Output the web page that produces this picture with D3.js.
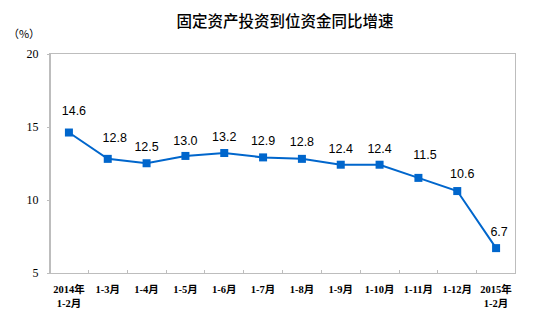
<!DOCTYPE html>
<html>
<head>
<meta charset="utf-8">
<script src="https://cdn.jsdelivr.net/npm/d3@7/dist/d3.min.js"></script>
<style>
  html, body { margin: 0; padding: 0; background: #fff; }
  svg { display: block; }
</style>
</head>
<body>
<svg id="chart" width="553" height="333"></svg>
<script>
// Period labels (two-line where needed)
const periods = [
  ["2014年", "1-2月"], ["1-3月"], ["1-4月"], ["1-5月"], ["1-6月"], ["1-7月"],
  ["1-8月"], ["1-9月"], ["1-10月"], ["1-11月"], ["1-12月"], ["2015年", "1-2月"]
];
// Year-on-year growth of funds in place for fixed-asset investment (%)
const growth = [14.6, 12.8, 12.5, 13.0, 13.2, 12.9, 12.8, 12.4, 12.4, 11.5, 10.6, 6.7];
const yTicks = [5, 10, 15, 20];

// Value-label nudges (dx, dy of label centre from its marker)
const labelNudge = [
  [5, -22], [7, -21], [0, -17], [0, -15], [0, -17], [0, -17],
  [0, -17], [0, -16], [0, -16], [6.5, -23], [5, -18], [3, -17]
];

const svg = d3.select("#chart");
const margin = { left: 49.5, right: 37.5, top: 53.5, bottom: 60 };
const W = 553, H = 333;
const x0 = margin.left, x1 = W - margin.right;
const y0 = H - margin.bottom, y1 = margin.top;

const x = d3.scaleBand().domain(d3.range(periods.length)).range([x0, x1]).padding(0);
const y = d3.scaleLinear().domain([5, 20]).range([y0, y1]);

const axisColor = "#bdbdbd";

// Title
svg.append("text")
  .attr("x", 285).attr("y", 27)
  .attr("text-anchor", "middle")
  .attr("font-family", "'Noto Sans CJK SC', sans-serif")
  .attr("font-size", 15.5)
  .attr("font-weight", 500)
  .attr("fill", "#000")
  .text("固定资产投资到位资金同比增速");

// Unit
svg.append("text")
  .attr("x", 24).attr("y", 37.5)
  .attr("text-anchor", "middle")
  .attr("font-family", "'Noto Sans CJK SC', sans-serif")
  .attr("font-size", 11)
  .attr("fill", "#000")
  .text("（%）");

// Plot frame
svg.append("rect")
  .attr("x", x0).attr("y", y1)
  .attr("width", x1 - x0).attr("height", y0 - y1)
  .attr("fill", "none")
  .attr("stroke", axisColor)
  .attr("stroke-width", 1)
  .attr("shape-rendering", "crispEdges");

// Y axis
const yAxis = d3.axisLeft(y).tickValues(yTicks).tickSize(3).tickPadding(8).tickFormat(d3.format("d"));
const gy = svg.append("g").attr("transform", `translate(${x0},0)`).call(yAxis);
gy.select(".domain").attr("stroke", axisColor).attr("shape-rendering", "crispEdges");
gy.selectAll(".tick line").attr("stroke", axisColor).attr("shape-rendering", "crispEdges");
gy.selectAll(".tick text")
  .attr("font-family", "'Liberation Serif', serif")
  .attr("font-size", 12)
  .attr("fill", "#000");

// X axis: inward ticks at category boundaries
const boundaries = d3.range(1, periods.length).map(i => x(i));
svg.append("g").selectAll("line").data(boundaries).join("line")
  .attr("x1", d => d).attr("x2", d => d)
  .attr("y1", y0).attr("y2", y0 - 3)
  .attr("stroke", axisColor)
  .attr("shape-rendering", "crispEdges");

const xl = svg.append("g").selectAll("text").data(periods).join("text")
  .attr("x", (d, i) => x(i) + x.bandwidth() / 2)
  .attr("y", 293)
  .attr("text-anchor", "middle")
  .attr("font-family", "'Liberation Serif', 'Noto Sans CJK SC', serif")
  .attr("font-size", 10.5)
  .attr("font-weight", "bold")
  .attr("fill", "#000");
xl.selectAll("tspan").data(d => d).join("tspan")
  .attr("x", function () { return d3.select(this.parentNode).attr("x"); })
  .attr("dy", (d, i) => i === 0 ? 0 : 14)
  .text(d => d);

// Line and markers
const cx = i => x(i) + x.bandwidth() / 2;
const line = d3.line().x((d, i) => cx(i)).y(d => y(d));
const blue = "#0066cc";

svg.append("path")
  .datum(growth)
  .attr("d", line)
  .attr("fill", "none")
  .attr("stroke", blue)
  .attr("stroke-width", 2);

svg.append("g").selectAll("rect").data(growth).join("rect")
  .attr("x", (d, i) => cx(i) - 4)
  .attr("y", d => y(d) - 4)
  .attr("width", 8).attr("height", 8)
  .attr("fill", blue);

// Value labels
svg.append("g").selectAll("text").data(growth).join("text")
  .attr("x", (d, i) => cx(i) + labelNudge[i][0])
  .attr("y", (d, i) => y(d) + labelNudge[i][1] + 4.5)
  .attr("text-anchor", "middle")
  .attr("font-family", "'Liberation Sans', Arial, sans-serif")
  .attr("font-size", 12.5)
  .attr("fill", "#000")
  .text(d => d.toFixed(1));
</script>
</body>
</html>
